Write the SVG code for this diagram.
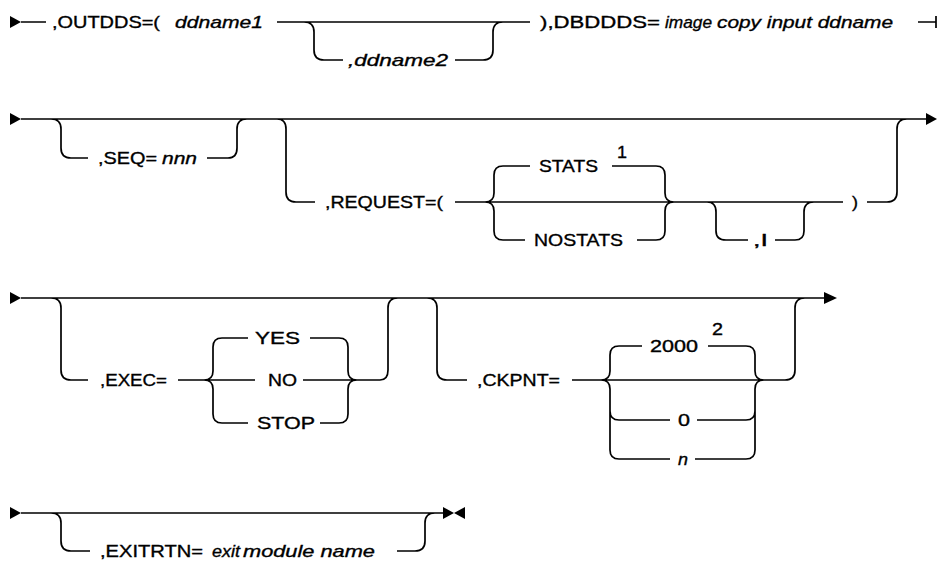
<svg xmlns="http://www.w3.org/2000/svg" width="939" height="563" viewBox="0 0 939 563">
<style>
.c{fill:none;stroke:#000;stroke-width:1.7}
.a{fill:#000}
text{font-family:"Liberation Sans",Arial,sans-serif;font-size:17px;fill:#000;stroke:#000;stroke-width:0.35}
.i{font-style:italic}
</style>
<rect width="939" height="563" fill="#fff"/>
<g id="connectors">
<!-- row 1 -->
<polygon class="a" points="10,16 21,22 10,28"/>
<path class="c" d="M21 22 H46 M277 22 H530 M304 22 Q314 22 314 32 V50 Q314 60 324 60 H343 M455 60 H483 Q493 60 493 50 V32 Q493 22 503 22 M918 22 H936 M936 16 V28"/>
<!-- row 2 -->
<polygon class="a" points="10,113 21,119 10,125"/>
<polygon class="a" points="926,113 937,119 926,125"/>
<path class="c" d="M21 119 H927 M51 119 Q61 119 61 129 V148 Q61 158 71 158 H88 M207 158 H228 Q237 158 237 148 V129 Q237 119 247 119 M277 119 Q286 119 286 129 V192 Q286 202 296 202 H315 M455 202 H843 M867 202 H887 Q897 202 897 192 V129 Q897 119 907 119 M485 202 Q494 202 494 193 V175 Q494 166 503 166 H530 M485 202 Q494 202 494 211 V231 Q494 240 503 240 H525 M612 166 H656 Q665 166 665 175 V193 Q665 202 674 202 M637 240 H656 Q665 240 665 231 V211 Q665 202 674 202 M707 202 Q716 202 716 212 V231 Q716 240 726 240 H748 M775 240 H795 Q804 240 804 231 V212 Q804 202 814 202"/>
<!-- row 3 -->
<polygon class="a" points="10,292 21,298 10,304"/>
<polygon class="a" points="824,292 837,298 824,304"/>
<path class="c" d="M21 298 H825 M51 298 Q61 298 61 308 V370 Q61 380 71 380 H88 M178 380 H255 M303 380 H380 Q388 380 388 370 V308 Q388 298 398 298 M204 380 Q213 380 213 371 V347 Q213 338 222 338 H248 M204 380 Q213 380 213 389 V414 Q213 423 222 423 H248 M310 338 H339 Q348 338 348 347 V371 Q348 380 357 380 M320 423 H339 Q348 423 348 414 V389 Q348 380 357 380 M427 298 Q437 298 437 308 V370 Q437 380 447 380 H467 M572 380 H785 Q795 380 795 370 V308 Q795 298 805 298 M601 380 Q610 380 610 371 V355 Q610 346 619 346 H642 M601 380 Q610 380 610 389 V450 Q610 459 619 459 H670 M610 411 Q610 420 619 420 H670 M708 346 H746 Q755 346 755 355 V371 Q755 380 764 380 M697 420 H746 Q755 420 755 411 M695 459 H746 Q755 459 755 450 V389 Q755 380 764 380"/>
<!-- row 4 -->
<polygon class="a" points="10,507 21,513 10,519"/>
<polygon class="a" points="443,507 454,513 443,519"/>
<polygon class="a" points="465,507 454,513 465,519"/>
<path class="c" d="M21 513 H444 M51 513 Q61 513 61 523 V541 Q61 551 71 551 H90 M397 551 H415 Q425 551 425 541 V523 Q425 513 435 513"/>
</g>
<g id="outdds"><text x="52" y="28" textLength="108" lengthAdjust="spacingAndGlyphs">,OUTDDS=(</text></g>
<g id="ddname1"><text class="i" x="175" y="28" textLength="88" lengthAdjust="spacingAndGlyphs">ddname1</text></g>
<g id="ddname2"><text class="i" x="348" y="66" textLength="100" lengthAdjust="spacingAndGlyphs">,ddname2</text></g>
<g id="dbddds"><text x="540" y="28" textLength="120" lengthAdjust="spacingAndGlyphs">),DBDDDS=</text>
<text class="i" x="665" y="28" textLength="47" lengthAdjust="spacingAndGlyphs">image</text>
<text class="i" x="717" y="28" textLength="176" lengthAdjust="spacingAndGlyphs">copy input ddname</text></g>
<g id="seq"><text x="98" y="164" textLength="59" lengthAdjust="spacingAndGlyphs">,SEQ=</text>
<text class="i" x="162" y="164" textLength="35" lengthAdjust="spacingAndGlyphs">nnn</text></g>
<g id="request"><text x="325" y="208" textLength="118" lengthAdjust="spacingAndGlyphs">,REQUEST=(</text></g>
<g id="stats"><text x="539" y="172" textLength="59" lengthAdjust="spacingAndGlyphs">STATS</text>
<text x="617" y="158" textLength="10" lengthAdjust="spacingAndGlyphs">1</text></g>
<g id="nostats"><text x="534" y="246" textLength="89" lengthAdjust="spacingAndGlyphs">NOSTATS</text></g>
<g id="opt-i"><text x="753" y="246" textLength="15" lengthAdjust="spacingAndGlyphs">,I</text></g>
<g id="rparen"><text x="852" y="208" textLength="6" lengthAdjust="spacingAndGlyphs">)</text></g>
<g id="exec"><text x="100" y="386" textLength="67" lengthAdjust="spacingAndGlyphs">,EXEC=</text></g>
<g id="yes"><text x="255" y="344" textLength="45" lengthAdjust="spacingAndGlyphs">YES</text></g>
<g id="no"><text x="268" y="386" textLength="29" lengthAdjust="spacingAndGlyphs">NO</text></g>
<g id="stop"><text x="257" y="429" textLength="58" lengthAdjust="spacingAndGlyphs">STOP</text></g>
<g id="ckpnt"><text x="477" y="386" textLength="83" lengthAdjust="spacingAndGlyphs">,CKPNT=</text></g>
<g id="v2000"><text x="650" y="352" textLength="48" lengthAdjust="spacingAndGlyphs">2000</text>
<text x="712" y="335" textLength="11" lengthAdjust="spacingAndGlyphs">2</text></g>
<g id="v0"><text x="678" y="426" textLength="12" lengthAdjust="spacingAndGlyphs">0</text></g>
<g id="vn"><text class="i" x="678" y="465" textLength="10" lengthAdjust="spacingAndGlyphs">n</text></g>
<g id="exitrtn"><text x="100" y="557" textLength="103" lengthAdjust="spacingAndGlyphs">,EXITRTN=</text>
<text class="i" x="212" y="557" textLength="28" lengthAdjust="spacingAndGlyphs">exit</text>
<text class="i" x="243" y="557" textLength="132" lengthAdjust="spacingAndGlyphs">module name</text></g>
</svg>
